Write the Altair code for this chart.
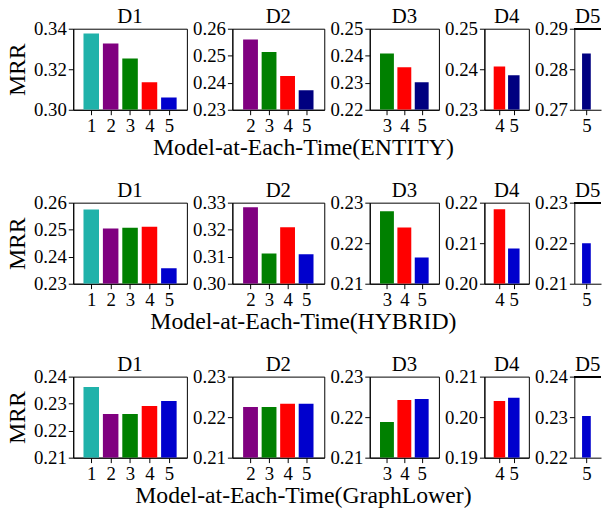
import altair as alt
import pandas as pd

ROWS = ["ENTITY", "HYBRID", "GraphLower"]
PANELS = ["D1", "D2", "D3", "D4", "D5"]
MODELS = [[1, 2, 3, 4, 5], [2, 3, 4, 5], [3, 4, 5], [4, 5], [5]]

ENTITY = [[0.3376, 0.3327, 0.3253, 0.3136, 0.3060],
          [0.2560, 0.2514, 0.2425, 0.2372],
          [0.2408, 0.2357, 0.2302],
          [0.2407, 0.2385],
          [0.2839]]
HYBRID = [[0.2575, 0.2504, 0.2507, 0.2511, 0.2357],
          [0.3283, 0.3112, 0.3209, 0.3109],
          [0.2279, 0.2239, 0.2165],
          [0.2184, 0.2087],
          [0.2200]]
GRAPHLOWER = [[0.2362, 0.2262, 0.2262, 0.2291, 0.2310],
              [0.2225, 0.2225, 0.2233, 0.2233],
              [0.2188, 0.2242, 0.2245],
              [0.2040, 0.2048],
              [0.2303]]
SERIES = {"ENTITY": ENTITY, "HYBRID": HYBRID, "GraphLower": GRAPHLOWER}

Y_TICKS = {
    "ENTITY": [[0.30, 0.32, 0.34], [0.23, 0.24, 0.25, 0.26], [0.22, 0.23, 0.24, 0.25],
               [0.23, 0.24, 0.25], [0.27, 0.28, 0.29]],
    "HYBRID": [[0.23, 0.24, 0.25, 0.26], [0.30, 0.31, 0.32, 0.33], [0.21, 0.22, 0.23],
               [0.20, 0.21, 0.22], [0.21, 0.22, 0.23]],
    "GraphLower": [[0.21, 0.22, 0.23, 0.24], [0.21, 0.22, 0.23], [0.21, 0.22, 0.23],
                   [0.19, 0.20, 0.21], [0.22, 0.23, 0.24]],
}

X_DOMAINS = [[0.326, 5.674], [1.286, 5.714], [2.293, 5.707], [3.296, 5.704], [4.343, 5.886]]
PANEL_WIDTHS = [115, 93, 70, 45, 27]
PANEL_HEIGHT = 82

FONT = "Liberation Serif"
MODEL_COLORS = {1: "#20B2AA", 2: "#800080", 3: "#008000", 4: "#FF0000", 5: "#0000CD"}
NAVY = "#000080"

records = []
for r in ROWS:
    for pi, p in enumerate(PANELS):
        for m, v in zip(MODELS[pi], SERIES[r][pi]):
            c = MODEL_COLORS[m]
            if r == "ENTITY" and m == 5 and p != "D1":
                c = NAVY
            records.append({"row": r, "panel": p, "model": m, "mrr": v, "color": c})
df = pd.DataFrame(records)


def panel(r, pi):
    ticks = Y_TICKS[r][pi]
    yaxis_kwargs = dict(values=ticks, format=".2f", grid=False)
    if pi == 0:
        yaxis_kwargs["title"] = "MRR"
    else:
        yaxis_kwargs["title"] = None
    base = alt.Chart(df).transform_filter(
        (alt.datum.row == r) & (alt.datum.panel == PANELS[pi])
    ).transform_calculate(x0="datum.model - 0.4", x1="datum.model + 0.4")
    bars = base.mark_bar(clip=True, orient="vertical").encode(
        x=alt.X("x0:Q", scale=alt.Scale(domain=X_DOMAINS[pi], nice=False, zero=False),
                axis=alt.Axis(values=MODELS[pi], format="d", title=None, grid=False)),
        x2="x1:Q",
        y=alt.Y("mrr:Q", scale=alt.Scale(domain=[ticks[0], ticks[-1]], nice=False, zero=False),
                axis=alt.Axis(**yaxis_kwargs)),
        y2=alt.datum(ticks[0]),
        color=alt.Color("color:N", scale=None),
    )
    title = alt.TitleParams(PANELS[pi], fontSize=21, font=FONT, fontWeight="normal",
                            color="black", offset=-7)
    if pi == len(PANELS) - 1:
        top = alt.Chart(df).mark_rule(color="black", strokeWidth=1).encode(
            x=alt.value(0), x2=alt.value(PANEL_WIDTHS[pi]), y=alt.value(0))
        ch = alt.layer(bars, top).properties(
            width=PANEL_WIDTHS[pi], height=PANEL_HEIGHT, title=title,
            view=alt.ViewBackground(stroke=None))
    else:
        ch = bars.properties(width=PANEL_WIDTHS[pi], height=PANEL_HEIGHT, title=title)
    return ch


rows = []
for r in ROWS:
    rows.append(alt.hconcat(*[panel(r, pi) for pi in range(len(PANELS))],
                            spacing=46, bounds="flush").properties(
        title=alt.TitleParams(f"Model-at-Each-Time({r})", orient="bottom", anchor="middle",
                              fontSize=24, font=FONT, fontWeight="normal", color="black",
                              offset=0)))

chart = alt.vconcat(*rows, spacing=176, bounds="flush").properties(
    padding={"top": -6, "left": -3, "right": 0, "bottom": 0}
).configure_view(
    stroke="black", strokeWidth=1
).configure_axis(
    labelFont=FONT, titleFont=FONT, labelFontSize=19, titleFontSize=24,
    labelColor="black", titleColor="black", domainColor="black", tickColor="black",
    tickSize=5, labelPadding=2, titlePadding=4, titleFontWeight="normal",
    domainWidth=1, tickWidth=1
).configure_axisX(labelAngle=0)

chart.save("out.html", embed_options={"renderer": "svg", "actions": False})
